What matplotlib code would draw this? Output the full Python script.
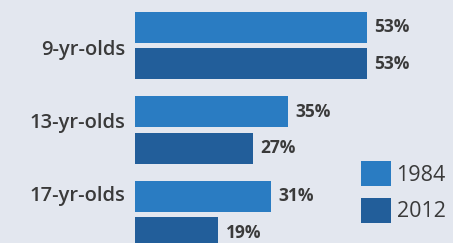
import numpy as np
import matplotlib
matplotlib.use('Agg')
from matplotlib import pyplot as plt

groups = ['9-yr-olds', '13-yr-olds', '17-yr-olds']
years = ['1984', '2012']
vals_1984 = [53, 35, 31]
vals_2012 = [53, 27, 19]

c1984 = '#2a7cc2'
c2012 = '#225e9a'
bg = '#e3e7ef'
txt = '#3a3a3a'

plt.rcParams['font.family'] = ['Open Sans', 'DejaVu Sans']

fig = plt.figure(figsize=(4.53, 2.43), dpi=100, facecolor=bg)
ax = fig.add_axes([135/453, 0, 1 - 135/453, 1])
ax.set_facecolor(bg)

y = np.arange(len(groups))
h = 0.367
off = 0.216
b1 = ax.barh(y - off, vals_1984, height=h, color=c1984, label=years[0])
b2 = ax.barh(y + off, vals_2012, height=h, color=c2012, label=years[1])

for bars, vals in ((b1, vals_1984), (b2, vals_2012)):
    for b, v in zip(bars, vals):
        ax.text(v + 1.7, b.get_y() + b.get_height() / 2, f'{v}%', va='center', ha='left',
                fontsize=12.5, fontweight='bold', color=txt)

ax.set_xlim(0, 72.6)
ax.set_ylim(2.337, -0.538)
ax.set_yticks([0.02, 0.89, 1.75])
ax.set_yticklabels(groups, fontsize=14.5, fontweight='semibold', color=txt)
ax.tick_params(axis='y', length=0, pad=7)
ax.set_xticks([])
for s in ax.spines.values():
    s.set_visible(False)

leg = fig.legend(handles=[b1, b2], loc='upper left', bbox_to_anchor=(361/453, 1 - 161/243),
                 frameon=False, fontsize=15.5, handlelength=1.4, handleheight=1.4,
                 handletextpad=0.25, labelspacing=0.55, borderaxespad=0, borderpad=0)
for t in leg.get_texts():
    t.set_color(txt)

fig.savefig('out.png', dpi=100, facecolor=bg)
